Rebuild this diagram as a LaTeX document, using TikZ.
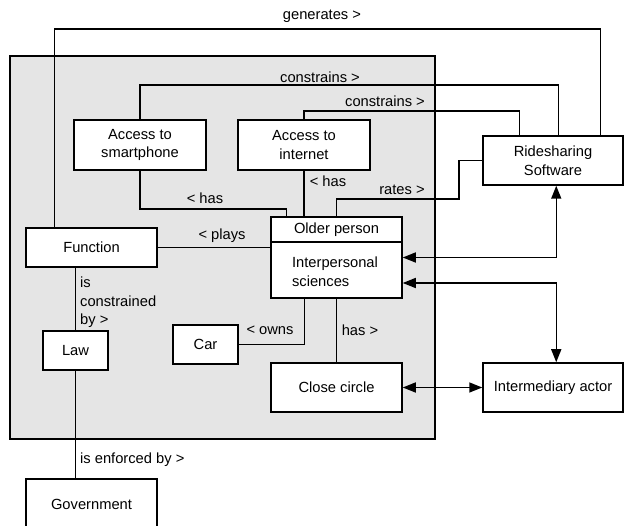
\documentclass[tikz,border=0pt]{standalone}
\usepackage{fontspec}
\setmainfont{Liberation Sans}
\usetikzlibrary{arrows.meta,calc}
\begin{document}
\begin{tikzpicture}[x=1pt,y=-1pt,
  every node/.style={font=\fontsize{14.7}{18.5}\selectfont},
  box/.style={draw,line width=1.5pt,fill=white,inner sep=0pt,align=center},
  conn/.style={line width=1.5pt},
  biarrow/.style={line width=1.5pt,{Triangle[length=13pt,width=10pt]}-{Triangle[length=13pt,width=10pt]}},
  lbl/.style={inner sep=0pt}]
\useasboundingbox (0,0) rectangle (625,526);
% container
\draw[line width=1.5pt,fill=gray!20] (10,56) rectangle (435,439);
% boxes
\node[box,minimum width=132pt,minimum height=50pt] (acs) at (140,145) {Access to\\smartphone};
\node[box,minimum width=132pt,minimum height=50pt] (aci) at (304,145) {Access to\\internet};
\node[box,minimum width=140pt,minimum height=49pt] (rs) at (553,160.5) {Ridesharing\\Software};
\node[box,minimum width=131pt,minimum height=81pt] (op) at (336.5,257.5) {};
\node[box,minimum width=131pt,minimum height=39pt] (fn) at (91.5,247.5) {Function};
\node[box,minimum width=65pt,minimum height=39pt] (law) at (75.5,350.5) {Law};
\node[box,minimum width=65pt,minimum height=39pt] (car) at (205.5,344.5) {Car};
\node[box,minimum width=131pt,minimum height=49pt] (cc) at (336.5,387.5) {Close circle};
\node[box,minimum width=140pt,minimum height=49pt] (ia) at (553,387.5) {Intermediary actor};
\node[box,minimum width=131pt,minimum height=50pt] (gov) at (91.5,504) {Government};
% older person compartments
\draw[conn] ([yshift=-26pt]op.north west) -- ([yshift=-26pt]op.north east);
\node[lbl] (opt) at (336.5,230) {Older person};
\node[lbl,align=left] (ops) at (335,271.5) {Interpersonal\\sciences};
% waypoints
\coordinate (gen) at (322,29);
\coordinate (c1) at (320,85);
\coordinate (c2) at (385,111);
\coordinate (h1) at (205,209);
\coordinate (r1) at (402,199);
\coordinate (rb) at (459,0);
% connectors
\draw[conn] ([xshift=29pt]fn.north west) |- (gen) -| ([xshift=118pt]rs.north west);
\draw[conn] (acs.north) |- (c1) -| ([xshift=76pt]rs.north west);
\draw[conn] (aci.north) |- (c2) -| ([xshift=37pt]rs.north west);
\draw[conn] (acs.south) |- (h1) -| ([xshift=16pt]op.north west);
\draw[conn] (aci.south) -- (aci.south |- op.north);
\draw[conn] ([xshift=66pt]op.north west) |- (r1) -| (rb |- rs.west) -- (rs.west);
\draw[conn] (fn.east) -- (fn.east -| op.west);
\draw[conn] (law.north |- fn.south) -- (law.north);
\draw[conn] (car.east) -| ([xshift=34pt]op.south west);
\draw[conn] (op.south) -- (cc.north);
\draw[conn] (law.south) -- (law.south |- gov.north);
\draw[biarrow] (op.east) -| ([xshift=74pt]rs.south west);
\draw[biarrow] ([yshift=-25.5pt]op.east) -| ([xshift=74pt]ia.north west);
\draw[biarrow] (cc.east) -- (ia.west);
% labels
\node[lbl] (lgen) at (322,16) {generates >};
\node[lbl] (lc1) at (320,77) {constrains >};
\node[lbl] (lc2) at (385,101) {constrains >};
\node[lbl] (lh1) at (205,198) {< has};
\node[lbl] (lh2) at (328,181) {< has};
\node[lbl] (lrt) at (402,190) {rates >};
\node[lbl] (lpl) at (222,236) {< plays};
\node[lbl,anchor=north west,align=left] (lcb) at (80,277) {is\\constrained\\by >};
\node[lbl] (low) at (270,330) {< owns};
\node[lbl] (lhs) at (360,330) {has >};
\node[lbl,anchor=west] (len) at (80,460) {is enforced by >};
\end{tikzpicture}
\end{document}
